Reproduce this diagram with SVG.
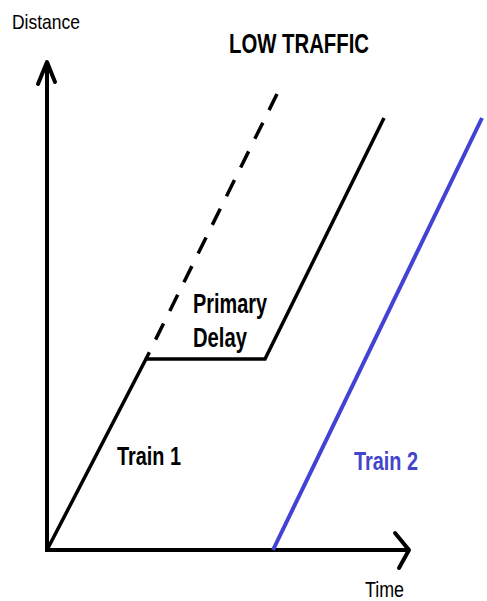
<svg xmlns="http://www.w3.org/2000/svg" width="487" height="601" viewBox="0 0 487 601">
<style>
.ax{stroke:#000;stroke-width:4;fill:none;stroke-linecap:square}
.hd{stroke:#000;stroke-width:4;fill:none;stroke-linecap:round;stroke-linejoin:round}
.t1{stroke:#000;stroke-width:3.5;fill:none;stroke-linejoin:miter}
.t2{stroke:#4242d4;stroke-width:4;fill:none}
.dash{stroke:#000;stroke-width:3.5;fill:none;stroke-dasharray:18 14}
text{font-family:"Liberation Sans",Arial,sans-serif;fill:#000}
.b{font-weight:bold}
</style>
<rect width="487" height="601" fill="#fff"/>
<g id="axes">
<line class="ax" x1="47" y1="550" x2="47" y2="64"/>
<polyline class="hd" points="38,84 47,62 55,82"/>
<line class="ax" x1="47" y1="550" x2="406" y2="550"/>
<polyline class="hd" points="395,533 409,550 399,568"/>
</g>
<g id="connectors">
<polyline class="t1" points="47,550 146,359 265,359 384,118"/>
<line class="dash" x1="277" y1="94" x2="146" y2="359"/>
<line class="t2" x1="273" y1="550" x2="482" y2="118"/>
</g>
<g id="labels">
<text x="12" y="29" font-size="21" textLength="68" lengthAdjust="spacingAndGlyphs">Distance</text>
<text class="b" x="229" y="53" font-size="28" textLength="140" lengthAdjust="spacingAndGlyphs">LOW TRAFFIC</text>
<text class="b" x="193" y="313" font-size="27" textLength="74" lengthAdjust="spacingAndGlyphs">Primary</text>
<text class="b" x="193" y="347" font-size="27" textLength="54" lengthAdjust="spacingAndGlyphs">Delay</text>
<text class="b" x="117" y="465" font-size="26" textLength="64" lengthAdjust="spacingAndGlyphs">Train 1</text>
<text class="b" x="354" y="470" font-size="26" textLength="64" lengthAdjust="spacingAndGlyphs" style="fill:#4444cc">Train 2</text>
<text x="365" y="597" font-size="22" textLength="39" lengthAdjust="spacingAndGlyphs">Time</text>
</g>
</svg>
